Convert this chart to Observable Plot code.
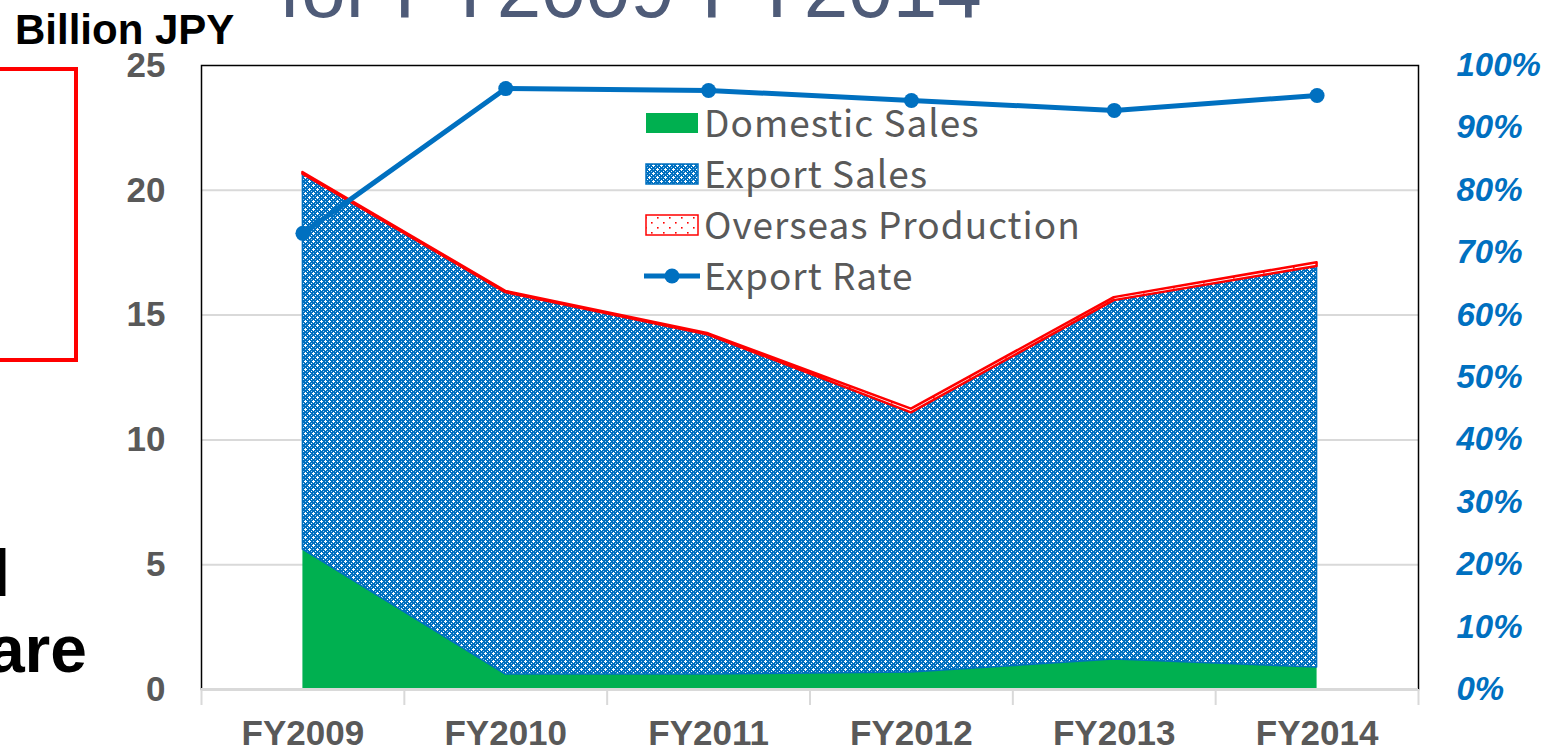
<!DOCTYPE html>
<html>
<head>
<meta charset="utf-8">
<script src="https://cdn.jsdelivr.net/npm/d3@7"></script>
<script src="https://cdn.jsdelivr.net/npm/@observablehq/plot@0.6"></script>
<style>
  html, body { margin: 0; padding: 0; background: #fff; width: 1546px; height: 753px; overflow: hidden; }
  #wrap { position: relative; width: 1546px; height: 753px; }
  #chart { position: absolute; left: 0; top: 0; }
  #overlay { position: absolute; left: 0; top: 0; pointer-events: none; }
</style>
</head>
<body>
<div id="wrap">
  <div id="chart"></div>
  <svg id="overlay" width="1546" height="753"></svg>
</div>
<script>
// ---------------- data ----------------
const years = ["FY2009", "FY2010", "FY2011", "FY2012", "FY2013", "FY2014"];
const domesticSales = [5.6, 0.6, 0.6, 0.68, 1.2, 0.88];          // billion JPY
const exportSales = [15.05, 15.3, 13.6, 10.4, 14.38, 16.07];      // billion JPY
const overseasProduction = [0.06, 0.05, 0.05, 0.15, 0.12, 0.15];  // billion JPY
const exportRate = [73.1, 96.3, 96.0, 94.4, 92.8, 95.2];          // %
const seriesNames = ["Domestic Sales", "Export Sales", "Overseas Production", "Export Rate"];
const leftTicks = [0, 5, 10, 15, 20, 25];
const rightTicks = [0, 10, 20, 30, 40, 50, 60, 70, 80, 90, 100];
const unitLabel = "Billion JPY";
const titleFragment = "for FY2009-FY2014";

// ---------------- tables ----------------
const Y_MAX = 25, R_MAX = 100;
const toY = r => r * Y_MAX / R_MAX;
const rows = [];
years.forEach((yr, i) => {
  rows.push({i, year: yr, series: seriesNames[0], value: domesticSales[i]});
  rows.push({i, year: yr, series: seriesNames[1], value: exportSales[i]});
  rows.push({i, year: yr, series: seriesNames[2], value: overseasProduction[i]});
});
const rate = years.map((yr, i) => ({i, year: yr, rate: exportRate[i]}));
const boundaries = d3.range(years.length + 1).map(k => k - 0.5);

const stacked = name => Plot.filter(d => d.series === name,
  Plot.stackY({x: "i", y: "value", z: "series"}));

const GRAY = "#595959", BLUE = "#0070C0", GREEN = "#00B050", RED = "#FF0000";

const chart = Plot.plot({
  width: 1546, height: 753,
  marginLeft: 201, marginRight: 128, marginTop: 65, marginBottom: 64,
  x: {type: "linear", domain: [-0.5, years.length - 0.5]},
  y: {domain: [0, Y_MAX]},
  style: {fontFamily: "'Liberation Sans', Arial, sans-serif", background: "transparent", overflow: "visible"},
  marks: [
    Plot.ruleY([5, 10, 15, 20], {stroke: "#d9d9d9", strokeWidth: 2}),
    Plot.areaY(rows, {...stacked(seriesNames[0]), fill: GREEN}),
    Plot.areaY(rows, {...stacked(seriesNames[1]), fill: "url(#exportPat)", stroke: BLUE, strokeWidth: 1.5}),
    Plot.areaY(rows, {...stacked(seriesNames[2]), fill: "url(#overseasPat)", stroke: RED, strokeWidth: 2.5}),
    Plot.frame({stroke: "#000", strokeWidth: 1.5}),
    Plot.ruleY([0], {stroke: "#d9d9d9", strokeWidth: 3}),
    Plot.axisY(leftTicks, {anchor: "left", tickSize: 0, tickPadding: 36, label: null,
      fontSize: 35, fontWeight: "bold", fill: GRAY}),
    Plot.axisY(rightTicks.map(toY), {anchor: "right", tickSize: 0, tickPadding: 38, label: null,
      tickFormat: d => Math.round(d * R_MAX / Y_MAX) + "%",
      fontSize: 33, fontWeight: "bold", fontStyle: "italic", fill: BLUE}),
    Plot.axisX(boundaries, {tickSize: 16, tickFormat: () => "", stroke: "#d9d9d9", strokeWidth: 2, label: null}),
    Plot.axisX(years.map((_, i) => i), {tickSize: 0, tickPadding: 31, label: null,
      tickFormat: i => years[i], fontSize: 35, fontWeight: "bold", fill: GRAY}),
    Plot.line(rate, {x: "i", y: d => toY(d.rate), stroke: BLUE, strokeWidth: 5}),
    Plot.dot(rate, {x: "i", y: d => toY(d.rate), r: 7.5, fill: BLUE, stroke: "none"})
  ]
});
document.getElementById("chart").appendChild(chart);

// ---------------- patterns ----------------
const defs = d3.select(chart).insert("defs", ":first-child");
const ep = defs.append("pattern").attr("id", "exportPat").attr("patternUnits", "userSpaceOnUse")
  .attr("width", 8).attr("height", 8);
ep.append("rect").attr("width", 8).attr("height", 8).attr("fill", BLUE);
// white crosses on a diagonal lattice
[[1,0],[0,1],[1,1],[2,1],[1,2],[5,4],[4,5],[5,5],[6,5],[5,6],[3,7],[7,3]].forEach(([x,y]) =>
  ep.append("rect").attr("x", x).attr("y", y).attr("width", 1).attr("height", 1).attr("fill", "#fff"));
// light-blue pixels
[[5,1],[1,5],[3,3],[7,7]].forEach(([x,y]) =>
  ep.append("rect").attr("x", x).attr("y", y).attr("width", 1).attr("height", 1).attr("fill", "#9cc6ec"));
const op = defs.append("pattern").attr("id", "overseasPat").attr("patternUnits", "userSpaceOnUse")
  .attr("width", 12).attr("height", 10);
op.append("rect").attr("width", 12).attr("height", 10).attr("fill", "#fff");
[[3,2],[9,7]].forEach(([x,y]) => op.append("rect").attr("x", x).attr("y", y).attr("width", 1.6).attr("height", 1.6).attr("fill", RED));

// ---------------- overlay: slide fragments, unit label, legend ----------------
const ov = d3.select("#overlay");
ov.append("text").attr("x", 279).attr("y", 17).attr("font-family", "'Liberation Sans', Arial, sans-serif")
  .attr("font-size", 80).attr("fill", "#4E5B78").text(titleFragment);
ov.append("text").attr("x", 15).attr("y", 44).attr("font-family", "'Liberation Sans', Arial, sans-serif")
  .attr("font-size", 42).attr("font-weight", "bold").attr("fill", "#000").text(unitLabel);
ov.append("rect").attr("x", -10).attr("y", 69).attr("width", 86).attr("height", 291)
  .attr("fill", "none").attr("stroke", RED).attr("stroke-width", 4);
ov.append("text").attr("x", 10).attr("y", 596).attr("text-anchor", "end").attr("font-family", "'Liberation Sans', Arial, sans-serif")
  .attr("font-size", 66).attr("font-weight", "bold").attr("fill", "#000").text("l");
ov.append("text").attr("x", 87).attr("y", 672).attr("text-anchor", "end").attr("font-family", "'Liberation Sans', Arial, sans-serif")
  .attr("font-size", 66).attr("font-weight", "bold").attr("fill", "#000").text("are");

const lg = ov.append("g").attr("font-family", "'Noto Sans CJK JP', 'Noto Sans', sans-serif")
  .attr("font-size", 37).attr("letter-spacing", 1).attr("fill", GRAY);
const swatchFills = [GREEN, "url(#exportPat)", "url(#overseasPat)"];
const swatchStrokes = ["none", BLUE, RED];
seriesNames.forEach((name, k) => {
  const base = 137 + k * 51;
  if (k < 3) {
    lg.append("rect").attr("x", 646).attr("y", base - 24).attr("width", 52).attr("height", 20)
      .attr("fill", swatchFills[k]).attr("stroke", swatchStrokes[k]).attr("stroke-width", k ? 1.5 : 0);
  } else {
    lg.append("line").attr("x1", 644).attr("x2", 700).attr("y1", base - 14).attr("y2", base - 14)
      .attr("stroke", BLUE).attr("stroke-width", 5);
    lg.append("circle").attr("cx", 672).attr("cy", base - 14).attr("r", 7.5).attr("fill", BLUE);
  }
  lg.append("text").attr("x", 704).attr("y", base).text(name);
});
</script>
</body>
</html>
